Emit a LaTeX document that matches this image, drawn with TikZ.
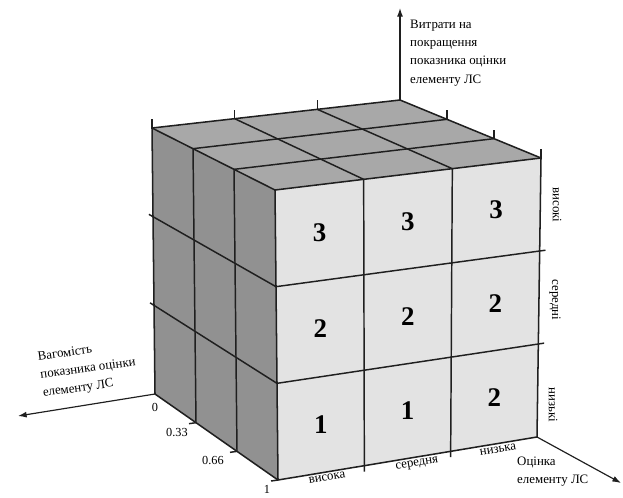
\documentclass[tikz,border=0pt]{standalone}
\usepackage{fontspec}
\setmainfont{Liberation Serif}
\usetikzlibrary{calc,arrows.meta}

\begin{document}
\begin{tikzpicture}[
  x=0.03cm, y=-0.03cm,
  topface/.style={fill=black!34},
  sideface/.style={fill=black!43},
  frontface/.style={fill=black!11},
  edge/.style={draw=black!88, line width=1.3pt, line join=round},
  gridl/.style={draw=black!88, line width=1.25pt},
  arr/.style={draw=black!88, line width=1pt, -{Latex[length=2.6mm,width=1.8mm]}},
  lbl/.style={font=\fontsize{11}{15.5}\selectfont, inner sep=0pt, align=left},
  tick/.style={font=\fontsize{10.5}{12}\selectfont, inner sep=0pt},
  num/.style={font=\fontsize{23}{24}\selectfont\bfseries, inner sep=0pt}
]
\useasboundingbox (0,0) rectangle (623,497);
\coordinate (btl) at (152,128);
\coordinate (btr) at (400,100);
\coordinate (ftl) at (275,190);
\coordinate (ftr) at (541,158);
\coordinate (fbl) at (278,480);
\coordinate (fbr) at (537,437);
\coordinate (bbl) at (155,394);
\foreach \i in {1,2} {
  \coordinate (tb\i) at ($(btl)!\i/3!(btr)$);
  \coordinate (tf\i) at ($(ftl)!\i/3!(ftr)$);
  \coordinate (bf\i) at ($(fbl)!\i/3!(fbr)$);
  \coordinate (tl\i) at ($(btl)!\i/3!(ftl)$);
  \coordinate (tr\i) at ($(btr)!\i/3!(ftr)$);
  \coordinate (bl\i) at ($(bbl)!\i/3!(fbl)$);
  \coordinate (lb\i) at ($(btl)!\i/3!(bbl)$);
  \coordinate (lf\i) at ($(ftl)!\i/3!(fbl)$);
  \coordinate (rf\i) at ($(ftr)!\i/3!(fbr)$);
}
\fill[topface] (btl) -- (btr) -- (ftr) -- (ftl) -- cycle;
\fill[sideface] (btl) -- (ftl) -- (fbl) -- (bbl) -- cycle;
\fill[frontface] (ftl) -- (ftr) -- (fbr) -- (fbl) -- cycle;
\foreach \i in {1,2} {
  \draw[gridl] (tb\i) -- (tf\i) -- ($(bf\i)!-5pt!(tf\i)$);
  \draw[gridl] (tr\i) -- (tl\i) -- (bl\i);
  \draw[gridl] ($(lb\i)!-4pt!(lf\i)$) -- (lf\i) -- ($(rf\i)!-5pt!(lf\i)$);
}
\foreach \p in {btl,tb1,tb2,tr1,tr2,ftr}
  \draw[gridl] (\p) -- ++(0,-9);
\foreach \p in {bl1,bl2,fbl}
  \draw[gridl] (\p) -- ++(-7,1);
\draw[edge] (btl) -- (btr) -- (ftr) -- (fbr) -- (fbl) -- (bbl) -- cycle;
\draw[edge] (btl) -- (ftl) -- (ftr);
\draw[edge] (ftl) -- (fbl);

\coordinate (zend) at (400,8);
\coordinate (wend) at (18,416);
\coordinate (oend) at (621,483);
\draw[arr] (btr) -- (zend);
\draw[arr] (bbl) -- (wend);
\draw[arr] (fbr) -- (oend);

\node[lbl, anchor=north west] (zlab) at (410,20) {Витрати на\\покращення\\показника оцінки\\елементу ЛС};
\node[lbl, anchor=north west, rotate=8] (wlab) at (37,352) {Вагомість\\показника оцінки\\елементу ЛС};
\node[lbl, anchor=north west] (olab) at (517,457) {Оцінка\\елементу ЛС};

\node[lbl, rotate=9.4] (col1) at (327,478) {висока};
\node[lbl, rotate=9.4] (col2) at (417,464) {середня};
\node[lbl, rotate=9.4] (col3) at (498,450) {низька};
\node[lbl, rotate=-90] (row1) at (557,205) {високі};
\node[lbl, rotate=-90] (row2) at (555,300) {середні};
\node[lbl, rotate=-90] (row3) at (553,405) {низькі};

\node[tick] (w0) at (155,407) {0};
\node[tick] (w1) at (177,432) {0.33};
\node[tick] (w2) at (213,460) {0.66};
\node[tick] (w3) at (267,489) {1};

\foreach \c/\r/\v in {0/0/3,1/0/3,2/0/3,0/1/2,1/1/2,2/1/2,0/2/1,1/2/1,2/2/2} {
  \pgfmathsetmacro\fa{(\c+0.5)/3}
  \pgfmathsetmacro\fb{(\r+0.5)/3}
  \coordinate (ct) at ($(ftl)!\fa!(ftr)$);
  \coordinate (cb) at ($(fbl)!\fa!(fbr)$);
  \node[num] (n\c\r) at ($(ct)!\fb!(cb)$) {\v};
}
\end{tikzpicture}
\end{document}
